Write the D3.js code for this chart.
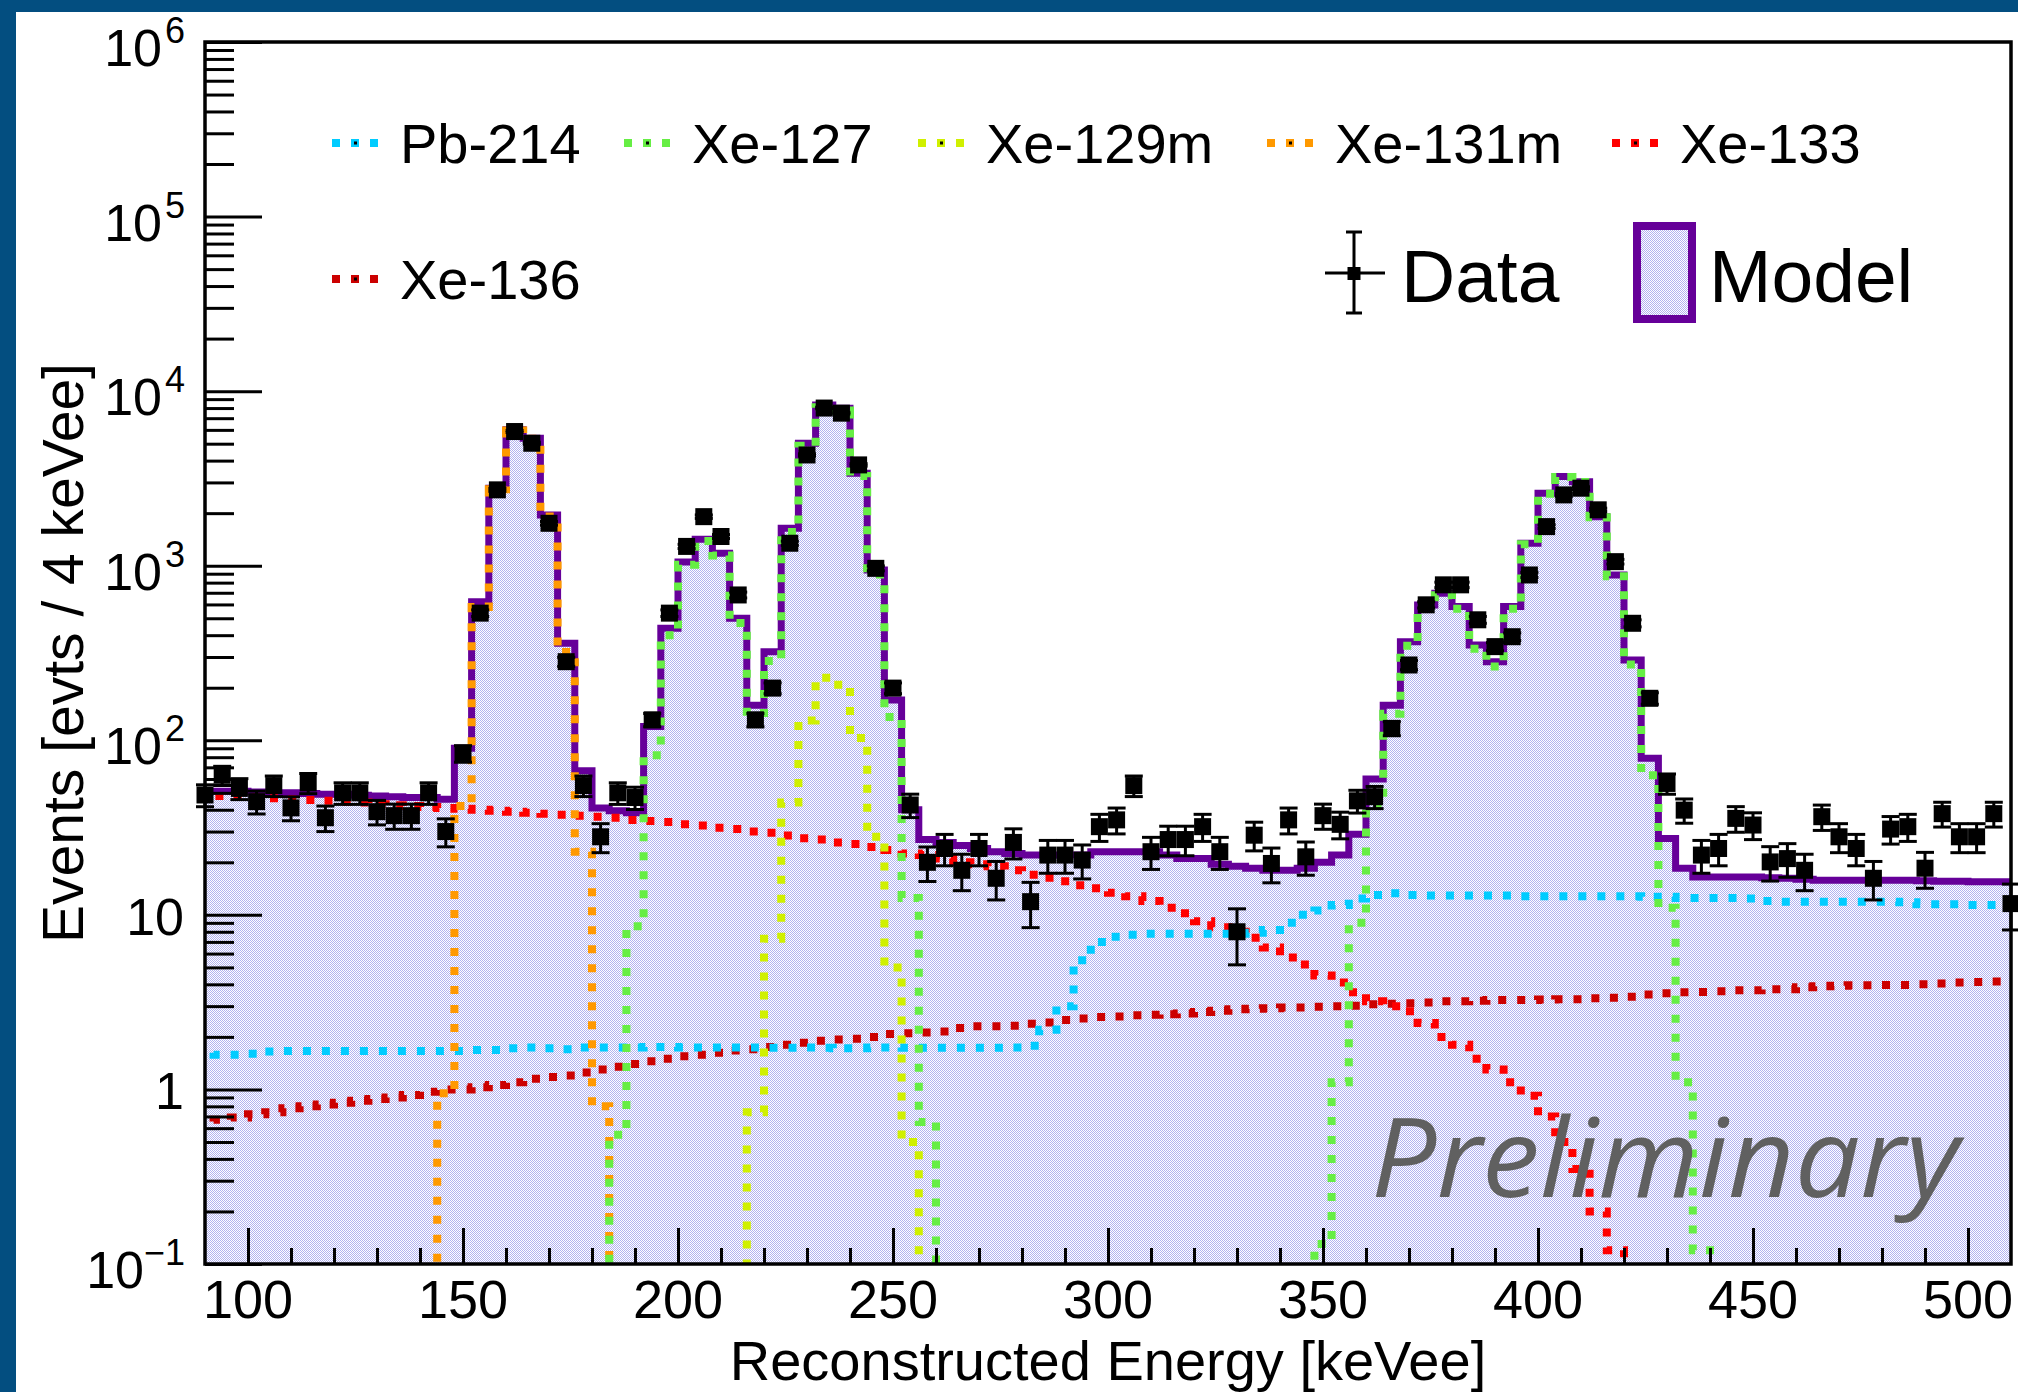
<!DOCTYPE html>
<html>
<head>
<meta charset="utf-8">
<script src="https://cdnjs.cloudflare.com/ajax/libs/d3/7.8.5/d3.min.js"></script>
<style>
  html, body { margin: 0; padding: 0; background: #fff; }
  svg { display: block; }
  text { font-family: "Liberation Sans", Arial, Helvetica, sans-serif; fill: #000; }
</style>
</head>
<body>
<svg id="chart" width="2018" height="1392"></svg>
<script>
// 4 keVee bins, centres 90 ... 510
var binCenters = d3.range(90, 511, 4);

// model (sum of fit components), events / 4 keVee
var model = [
  51, 51, 51, 50.5, 50, 50, 49.5, 49, 49, 48.5,
  48, 47.5, 47, 47, 46, 90, 622, 2780, 6000, 5370,
  1955, 360, 67, 41, 39.5, 38.5, 120, 438, 1050, 1420,
  1180, 500, 159, 322, 1640, 5030, 8340, 7980, 3390, 946,
  170, 40, 27, 26, 25, 24, 23, 22.5, 22, 22,
  22, 22, 23, 23, 23, 23, 22, 21, 21, 19.5,
  19, 18.5, 18, 18, 18.5, 20, 22, 29, 60, 159,
  367, 596, 695, 584, 352, 282, 584, 1345, 2600, 3240,
  3030, 1910, 885, 288, 79, 27.4, 18.5, 16.5, 16.5, 16.5,
  16.5, 16.3, 16.2, 16, 15.8, 15.8, 15.8, 15.8, 15.8, 15.8,
  15.7, 15.6, 15.6, 15.5, 15.5, 15.5
];

// measured counts per bin
var data = [
  48.6, 63, 53, 44.5, 55, 41, 57, 36, 50, 50,
  39, 37, 37, 50, 30, 84, 535, 2720, 5870, 5030,
  1750, 282, 55, 28, 50, 47, 131, 535, 1290, 1910,
  1470, 680, 131, 199, 1345, 4310, 8000, 7480, 3780, 966,
  199, 42.6, 20, 24, 18, 24, 16.2, 26, 11.9, 22,
  22, 20.6, 32, 35, 55, 23, 27, 27, 32, 23,
  8, 28.6, 19.7, 35, 21.5, 37, 33, 45, 47.5, 117,
  270, 597, 777, 777, 490, 344, 392, 885, 1675, 2545,
  2780, 2090, 1055, 468, 174, 56.6, 39.8, 22, 24, 35.7,
  32.7, 20.1, 21, 18, 36.5, 28, 24, 16.2, 31, 32,
  18.5, 38, 28, 28, 38, 11.6
];

var pb214 = [
  1.66, 1.58, 1.58, 1.6, 1.65, 1.66, 1.66, 1.66, 1.66, 1.66,
  1.66, 1.66, 1.66, 1.66, 1.66, 1.66, 1.68, 1.68, 1.72, 1.74,
  1.72, 1.7, 1.74, 1.74, 1.74, 1.74, 1.75, 1.75, 1.74, 1.74,
  1.74, 1.74, 1.74, 1.73, 1.73, 1.74, 1.73, 1.72, 1.72, 1.74,
  1.74, 1.73, 1.73, 1.73, 1.73, 1.73, 1.73, 1.74, 1.78, 2.2,
  3.0, 5.5, 7.0, 7.5, 7.7, 7.8, 7.8, 7.8, 7.8, 7.8,
  7.8, 7.9, 8.2, 9.0, 10.0, 10.6, 11.4, 12.4, 13.0, 13.3,
  13.0, 12.9, 12.9, 12.9, 12.9, 12.9, 12.9, 12.8, 12.8, 12.8,
  12.8, 12.8, 12.8, 12.8, 12.7, 12.7, 12.5, 12.5, 12.5, 12.5,
  12.4, 12.0, 11.9, 11.9, 11.9, 11.9, 11.9, 11.9, 11.9, 11.8,
  11.5, 11.5, 11.5, 11.4, 11.4, 11.4
];

var xe133 = [
  48, 48, 47.5, 47, 46.5, 46, 45.5, 45, 44.5, 44,
  43, 42.5, 42, 41.5, 41, 40.5, 40, 39.5, 39, 38.5,
  38, 37.5, 37, 36.5, 36, 35, 34.5, 34, 33, 32.5,
  31.5, 31, 30, 29.5, 28.5, 27.5, 27, 26, 25.5, 24.5,
  23.5, 22.5, 22, 21, 20, 19.5, 19, 18, 17, 16.3,
  15.6, 14.8, 14.2, 13.4, 12.8, 12, 11, 10.2, 9.2, 8.5,
  8, 7.4, 6.5, 5.7, 5.2, 4.5, 4.1, 3.6, 3.2, 3.0,
  2.8, 2.4, 2.0, 1.8, 1.5, 1.3, 1.1, 0.92, 0.7, 0.5,
  0.35, 0.2, 0.12, 0.06, 0, 0, 0, 0, 0, 0,
  0, 0, 0, 0, 0, 0, 0, 0, 0, 0,
  0, 0, 0, 0, 0, 0
];

var xe136 = [
  0.64, 0.67, 0.69, 0.72, 0.74, 0.78, 0.8, 0.82, 0.84, 0.86,
  0.88, 0.9, 0.93, 0.97, 1.0, 1.0, 1.03, 1.06, 1.1, 1.15,
  1.18, 1.2, 1.25, 1.3, 1.35, 1.4, 1.45, 1.5, 1.55, 1.58,
  1.62, 1.67, 1.7, 1.75, 1.8, 1.85, 1.9, 1.93, 1.95, 2.0,
  2.08, 2.1, 2.12, 2.15, 2.25, 2.3, 2.3, 2.32, 2.38, 2.42,
  2.5, 2.55, 2.6, 2.62, 2.66, 2.68, 2.7, 2.72, 2.78, 2.82,
  2.88, 2.9, 2.92, 2.95, 2.95, 2.98, 3.0, 3.02, 3.08, 3.1,
  3.12, 3.15, 3.2, 3.2, 3.22, 3.25, 3.25, 3.25, 3.27, 3.28,
  3.28, 3.33, 3.35, 3.4, 3.5, 3.55, 3.6, 3.62, 3.65, 3.7,
  3.7, 3.75, 3.75, 3.85, 3.9, 3.92, 3.95, 3.95, 3.97, 3.97,
  4.0, 4.05, 4.1, 4.12, 4.15, 4.15
];

// peaked components: [first bin centre, values]
var xe131m = [[146, [0.95, 42, 580, 2740, 5960, 5330, 1915, 320, 23, 0.8]]];
var xe129m = [[218, [0.74, 7.3, 44, 130, 228, 208, 103, 28, 5, 0.5]]];
var xe127 = [
  [186, [0.55, 8.6, 82, 400, 1013, 1385, 1145, 470, 126, 285,
         1560, 4870, 8080, 7740, 3260, 890, 136, 12.5, 0.65]],
  [350, [0.13, 1.1, 9, 42, 142, 348, 578, 677, 566, 335, 265, 567,
         1328, 2583, 3223, 3014, 1894, 869, 272, 63, 11, 1.1, 0.12]]
];

var legendNames = ["Pb-214", "Xe-127", "Xe-129m", "Xe-131m", "Xe-133", "Xe-136"];
var legendColors = ["#00ccff", "#66ee44", "#d0f000", "#ff9900", "#ff0000", "#cc0000"];

var xMajorTicks = d3.range(100, 501, 50);
var yMajorTicks = [0.1, 1, 10, 100, 1e3, 1e4, 1e5, 1e6];

function fullBins(segments) {
  var out = binCenters.map(function () { return 0; });
  segments.forEach(function (s) {
    s[1].forEach(function (v, k) { out[(s[0] - 90) / 4 + k] = v; });
  });
  return out;
}

var components = [
  { name: "Xe-136", vals: xe136 },
  { name: "Xe-133", vals: xe133 },
  { name: "Pb-214", vals: pb214 },
  { name: "Xe-131m", vals: fullBins(xe131m) },
  { name: "Xe-129m", vals: fullBins(xe129m) },
  { name: "Xe-127", vals: fullBins(xe127) }
];
var colorOf = d3.scaleOrdinal().domain(legendNames).range(legendColors);

var svg = d3.select("#chart");
var frame = { left: 205, right: 2011, top: 42, bottom: 1264 };

var x = d3.scaleLinear().domain([90, 510]).range([frame.left, frame.right]);
var y = d3.scaleLog().domain([0.1, 1e6]).range([frame.bottom, frame.top]);

var defs = svg.append("defs");
var pat = defs.append("pattern").attr("id", "hatch")
  .attr("patternUnits", "userSpaceOnUse").attr("width", 2).attr("height", 2);
pat.append("rect").attr("width", 2).attr("height", 2).attr("fill", "#ffffff");
pat.append("rect").attr("width", 1).attr("height", 1).attr("fill", "#b2b2f0");
pat.append("rect").attr("x", 1).attr("y", 1).attr("width", 1).attr("height", 1).attr("fill", "#b2b2f0");

defs.append("clipPath").attr("id", "plotclip").append("rect")
  .attr("x", frame.left).attr("y", frame.top)
  .attr("width", frame.right - frame.left).attr("height", frame.bottom - frame.top);

svg.append("rect").attr("width", 2018).attr("height", 1392).attr("fill", "#fff");

function yv(v) { return v > 0 ? y(v) : frame.bottom + 80; }

function stepPoints(vals) {
  var pts = [];
  vals.forEach(function (v, i) {
    var c = binCenters[i];
    pts.push([x(c - 2), yv(v)], [x(c + 2), yv(v)]);
  });
  return pts;
}

var line = d3.line();
var plot = svg.append("g").attr("clip-path", "url(#plotclip)");

// model fill
var fillPts = stepPoints(model);
fillPts.unshift([x(88), frame.bottom + 10]);
fillPts.push([x(512), frame.bottom + 10]);
plot.append("path").attr("d", line(fillPts) + "Z").attr("fill", "url(#hatch)").attr("stroke", "none");

// model outline
plot.append("path").attr("d", line(stepPoints(model)))
  .attr("fill", "none").attr("stroke", "#660099").attr("stroke-width", 7)
  .attr("stroke-linejoin", "miter");

// components (dotted)
components.forEach(function (c) {
  plot.append("path").attr("d", line(stepPoints(c.vals)))
    .attr("fill", "none").attr("stroke", colorOf(c.name))
    .attr("stroke-width", 8).attr("stroke-dasharray", "8 11");
});

// axes: ticks inward
var axG = svg.append("g");
function styleAxis(g) {
  g.select(".domain").remove();
  g.selectAll(".tick line").attr("stroke", "#000").attr("stroke-width", 3);
}
var yMinorTicks = [];
for (var e = -1; e < 6; e++) {
  for (var k = 2; k <= 9; k++) yMinorTicks.push(k * Math.pow(10, e));
}
axG.append("g").attr("transform", "translate(" + frame.left + ",0)")
  .call(d3.axisLeft(y).tickValues(yMajorTicks).tickSize(-57).tickFormat(""))
  .call(styleAxis);
axG.append("g").attr("transform", "translate(" + frame.left + ",0)")
  .call(d3.axisLeft(y).tickValues(yMinorTicks).tickSize(-29).tickFormat(""))
  .call(styleAxis);
var xMinorTicks = d3.range(100, 510, 10).filter(function (v) { return v % 50 !== 0; });
axG.append("g").attr("transform", "translate(0," + frame.bottom + ")")
  .call(d3.axisBottom(x).tickValues(xMajorTicks).tickSize(-36).tickFormat(""))
  .call(styleAxis);
axG.append("g").attr("transform", "translate(0," + frame.bottom + ")")
  .call(d3.axisBottom(x).tickValues(xMinorTicks).tickSize(-16).tickFormat(""))
  .call(styleAxis);

svg.append("rect").attr("x", frame.left).attr("y", frame.top)
  .attr("width", frame.right - frame.left).attr("height", frame.bottom - frame.top)
  .attr("fill", "none").attr("stroke", "#000").attr("stroke-width", 3.5);

// tick labels
xMajorTicks.forEach(function (v) {
  svg.append("text").attr("x", x(v)).attr("y", 1318)
    .attr("text-anchor", "middle").attr("font-size", 54).text(v);
});
yMajorTicks.forEach(function (v) {
  var p = Math.round(Math.log10(v));
  var ty = y(v);
  if (p === 0 || p === 1) {
    svg.append("text").attr("x", 184).attr("y", ty + 20)
      .attr("text-anchor", "end").attr("font-size", 52).text(p === 0 ? "1" : "10");
  } else {
    // negative exponent is wider, so the base moves left
    svg.append("text").attr("x", p < 0 ? 144 : 162).attr("y", ty + 24)
      .attr("text-anchor", "end").attr("font-size", 52).text("10");
    svg.append("text").attr("x", 185).attr("y", ty + 1)
      .attr("text-anchor", "end").attr("font-size", 36)
      .text(p < 0 ? "\u2212" + (-p) : String(p));
  }
});

// axis titles
svg.append("text").attr("x", (frame.left + frame.right) / 2).attr("y", 1380)
  .attr("text-anchor", "middle").attr("font-size", 56).text("Reconstructed Energy [keVee]");
svg.append("text").attr("transform", "translate(83," + ((frame.top + frame.bottom) / 2) + ") rotate(-90)")
  .attr("text-anchor", "middle").attr("font-size", 57).text("Events [evts / 4 keVee]");

// data points with Poisson error bars
var dataG = svg.append("g");
data.forEach(function (v, i) {
  var cx = x(binCenters[i]);
  var err = Math.sqrt(v);
  var yTop = y(v + err), yBot = y(Math.max(v - err, 0.1));
  dataG.append("line").attr("x1", cx).attr("x2", cx).attr("y1", yTop).attr("y2", yBot)
    .attr("stroke", "#000").attr("stroke-width", 3);
  [yTop, yBot].forEach(function (yy) {
    dataG.append("line").attr("x1", cx - 9).attr("x2", cx + 9).attr("y1", yy).attr("y2", yy)
      .attr("stroke", "#000").attr("stroke-width", 3);
  });
  dataG.append("rect").attr("x", cx - 8.5).attr("y", y(v) - 8.5)
    .attr("width", 17).attr("height", 17).attr("fill", "#000");
});

// legend: components
var legendPos = [[400, 143], [692, 143], [986, 143], [1335, 143], [1680, 143], [400, 279]];
legendNames.forEach(function (n, i) {
  var lx = legendPos[i][0], ly = legendPos[i][1];
  svg.append("line").attr("x1", lx - 68).attr("x2", lx - 21).attr("y1", ly).attr("y2", ly)
    .attr("stroke", colorOf(n)).attr("stroke-width", 8).attr("stroke-dasharray", "8 11");
  svg.append("rect").attr("x", lx - 46).attr("y", ly - 1.5).attr("width", 3).attr("height", 3).attr("fill", "#000");
  svg.append("text").attr("x", lx).attr("y", ly + 20).attr("font-size", 56).text(n);
});

// legend: data / model
var dl = svg.append("g");
dl.append("line").attr("x1", 1354).attr("x2", 1354).attr("y1", 232).attr("y2", 313).attr("stroke", "#000").attr("stroke-width", 3);
dl.append("line").attr("x1", 1346).attr("x2", 1362).attr("y1", 232).attr("y2", 232).attr("stroke", "#000").attr("stroke-width", 3);
dl.append("line").attr("x1", 1346).attr("x2", 1362).attr("y1", 313).attr("y2", 313).attr("stroke", "#000").attr("stroke-width", 3);
dl.append("line").attr("x1", 1325).attr("x2", 1385).attr("y1", 273).attr("y2", 273).attr("stroke", "#000").attr("stroke-width", 3);
dl.append("rect").attr("x", 1347.5).attr("y", 267).attr("width", 13).attr("height", 13).attr("fill", "#000");
dl.append("text").attr("x", 1401).attr("y", 302).attr("font-size", 75).text("Data");
dl.append("rect").attr("x", 1637).attr("y", 226).attr("width", 55).attr("height", 93)
  .attr("fill", "url(#hatch)").attr("stroke", "#660099").attr("stroke-width", 8);
dl.append("text").attr("x", 1709).attr("y", 302).attr("font-size", 75).text("Model");

// watermark
svg.append("text").attr("x", 1371).attr("y", 1197)
  .attr("font-size", 110).attr("font-style", "italic")
  .style("font-family", "'Open Sans', 'Noto Sans', sans-serif").style("fill", "#606060")
  .attr("textLength", 588).attr("lengthAdjust", "spacingAndGlyphs")
  .text("Preliminary");

// slide border
svg.append("rect").attr("x", 0).attr("y", 0).attr("width", 16).attr("height", 1392).attr("fill", "#034e80");
svg.append("rect").attr("x", 0).attr("y", 0).attr("width", 2018).attr("height", 12).attr("fill", "#034e80");
</script>
</body>
</html>
